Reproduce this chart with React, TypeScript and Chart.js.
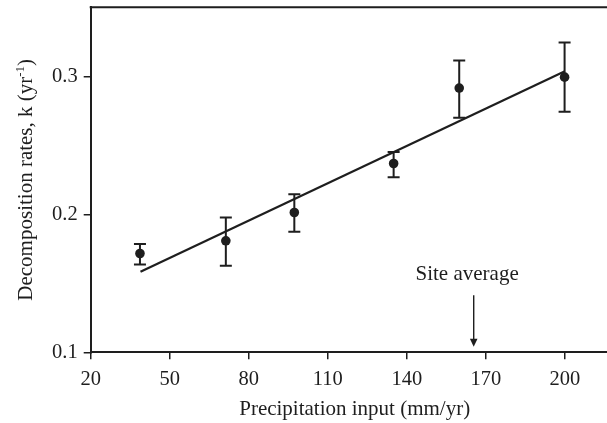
import React, { useEffect, useRef } from "react";
import { Chart, registerables } from "chart.js";

Chart.register(...registerables);

// ---- Data ----
const precipitation = [38.7, 71.3, 97.3, 135.0, 159.9, 199.9];
const decompRate = [0.1716, 0.1808, 0.2013, 0.2368, 0.2915, 0.2994];
const errUpper = [0.1784, 0.1977, 0.2145, 0.2452, 0.3115, 0.3245];
const errLower = [0.1637, 0.1627, 0.1873, 0.2268, 0.27, 0.2744];
const fitX = [38.9, 200];
const fitY = [0.1583, 0.3036];
const xTicks = [20, 50, 80, 110, 140, 170, 200];
const yTicks = [0.1, 0.2, 0.3];
const siteAverage = 165.4;
const siteLabel = "Site average";
const xTitle = "Precipitation input (mm/yr)";
const yTitleMain = "Decomposition rates, k (yr";
const yTitleSup = "-1";
const yTitleEnd = ")";

const INK = "#1e1e1e";
const FONT = '"Liberation Serif", "Times New Roman", serif';

const errorBarsPlugin = {
  id: "errorBars",
  afterDatasetsDraw(chart: any) {
    const { ctx, scales } = chart;
    const xs = scales.x;
    const ys = scales.y;
    ctx.save();
    ctx.strokeStyle = INK;
    ctx.lineWidth = 2;
    const cap = 6;
    precipitation.forEach((p, i) => {
      const x = xs.getPixelForValue(p);
      const yt = ys.getPixelForValue(errUpper[i]);
      const yb = ys.getPixelForValue(errLower[i]);
      ctx.beginPath();
      ctx.moveTo(x, yt);
      ctx.lineTo(x, yb);
      ctx.moveTo(x - cap, yt);
      ctx.lineTo(x + cap, yt);
      ctx.moveTo(x - cap, yb);
      ctx.lineTo(x + cap, yb);
      ctx.stroke();
    });
    ctx.restore();
  },
};

const framePlugin = {
  id: "frame",
  afterDraw(chart: any) {
    const { ctx, chartArea } = chart;
    ctx.save();
    ctx.strokeStyle = INK;
    ctx.lineWidth = 2;
    ctx.beginPath();
    ctx.moveTo(chartArea.left - 1, chartArea.top);
    ctx.lineTo(chartArea.right + 2, chartArea.top);
    ctx.stroke();
    ctx.restore();
  },
};

const annotationPlugin = {
  id: "siteAnnotation",
  afterDraw(chart: any) {
    const { ctx, chartArea, scales } = chart;
    const x = scales.x.getPixelForValue(siteAverage);
    const bottom = chartArea.bottom;
    const top = bottom - 57;
    const tip = bottom - 5.5;
    ctx.save();
    ctx.strokeStyle = INK;
    ctx.fillStyle = INK;
    ctx.lineWidth = 1.4;
    ctx.beginPath();
    ctx.moveTo(x, top);
    ctx.lineTo(x, tip - 6);
    ctx.stroke();
    ctx.beginPath();
    ctx.moveTo(x - 3.8, tip - 8);
    ctx.lineTo(x + 3.8, tip - 8);
    ctx.lineTo(x, tip);
    ctx.closePath();
    ctx.fill();
    ctx.font = `21px ${FONT}`;
    ctx.textAlign = "center";
    ctx.textBaseline = "alphabetic";
    ctx.fillText(siteLabel, x - 6.6, bottom - 72.3);
    ctx.restore();
  },
};

const titlesPlugin = {
  id: "axisTitles",
  afterDraw(chart: any) {
    const { ctx, chartArea } = chart;
    ctx.save();
    ctx.fillStyle = INK;
    ctx.textBaseline = "alphabetic";
    // x title
    ctx.font = `21px ${FONT}`;
    ctx.textAlign = "center";
    ctx.fillText(xTitle, 354.7, 415);
    // y title (rotated, with superscript)
    const cy = (chartArea.top + chartArea.bottom) / 2;
    ctx.translate(31.5, cy);
    ctx.rotate(-Math.PI / 2);
    ctx.textAlign = "left";
    const mainFont = `21px ${FONT}`;
    const supFont = `13px ${FONT}`;
    ctx.font = mainFont;
    const w1 = ctx.measureText(yTitleMain).width;
    const w3 = ctx.measureText(yTitleEnd).width;
    ctx.font = supFont;
    const w2 = ctx.measureText(yTitleSup).width;
    const total = w1 + w2 + w3;
    let sx = -total / 2;
    ctx.font = mainFont;
    ctx.fillText(yTitleMain, sx, 0);
    sx += w1;
    ctx.font = supFont;
    ctx.fillText(yTitleSup, sx, -8);
    sx += w2;
    ctx.font = mainFont;
    ctx.fillText(yTitleEnd, sx, 0);
    ctx.restore();
  },
};

export default function App() {
  const canvasRef = useRef<HTMLCanvasElement | null>(null);

  useEffect(() => {
    const canvas = canvasRef.current;
    if (!canvas) return;
    const chart = new Chart(canvas, {
      type: "scatter",
      data: {
        datasets: [
          {
            type: "line",
            data: fitX.map((x, i) => ({ x, y: fitY[i] })),
            borderColor: INK,
            borderWidth: 2.2,
            pointRadius: 0,
            fill: false,
            tension: 0,
          } as any,
          {
            type: "scatter",
            data: precipitation.map((x, i) => ({ x, y: decompRate[i] })),
            pointRadius: 4.8,
            pointBackgroundColor: INK,
            pointBorderWidth: 0,
            borderColor: INK,
            backgroundColor: INK,
          } as any,
        ],
      },
      options: {
        animation: false,
        responsive: false,
        layout: { autoPadding: false, padding: { top: 7.3, left: 0, right: 0, bottom: 0 } },
        plugins: { legend: { display: false }, tooltip: { enabled: false } },
        scales: {
          x: {
            type: "linear",
            min: 20,
            max: 216,
            afterBuildTicks: (s: any) => {
              s.ticks = xTicks.map((v) => ({ value: v }));
            },
            afterFit: (s: any) => {
              s.height = 70.7;
              s.paddingLeft = 0;
              s.paddingRight = 0;
            },
            grid: { drawOnChartArea: false, tickLength: 7, color: INK, lineWidth: 1.5 },
            border: { color: INK, width: 2 },
            ticks: {
              font: { family: FONT, size: 20.5 },
              color: INK,
              padding: 8,
              maxRotation: 0,
              autoSkip: false,
              callback: (v: any) => String(v),
            },
          },
          y: {
            type: "linear",
            min: 0.1,
            max: 0.35,
            afterBuildTicks: (s: any) => {
              s.ticks = yTicks.map((v) => ({ value: v }));
            },
            afterFit: (s: any) => {
              s.width = 90.7;
              s.paddingTop = 0;
              s.paddingBottom = 0;
            },
            grid: { drawOnChartArea: false, tickLength: 7, color: INK, lineWidth: 1.5 },
            border: { color: INK, width: 2 },
            ticks: {
              font: { family: FONT, size: 20.5 },
              color: INK,
              padding: 6,
              autoSkip: false,
              callback: (v: any) => Number(v).toFixed(1),
            },
          },
        },
      } as any,
      plugins: [errorBarsPlugin, framePlugin, annotationPlugin, titlesPlugin],
    });
    return () => chart.destroy();
  }, []);

  return (
    <div style={{ position: "fixed", left: 0, top: 0, width: 607, height: 423, background: "#fff" }}>
      <canvas ref={canvasRef} width={607} height={423} style={{ width: 607, height: 423, display: "block" }} />
    </div>
  );
}
